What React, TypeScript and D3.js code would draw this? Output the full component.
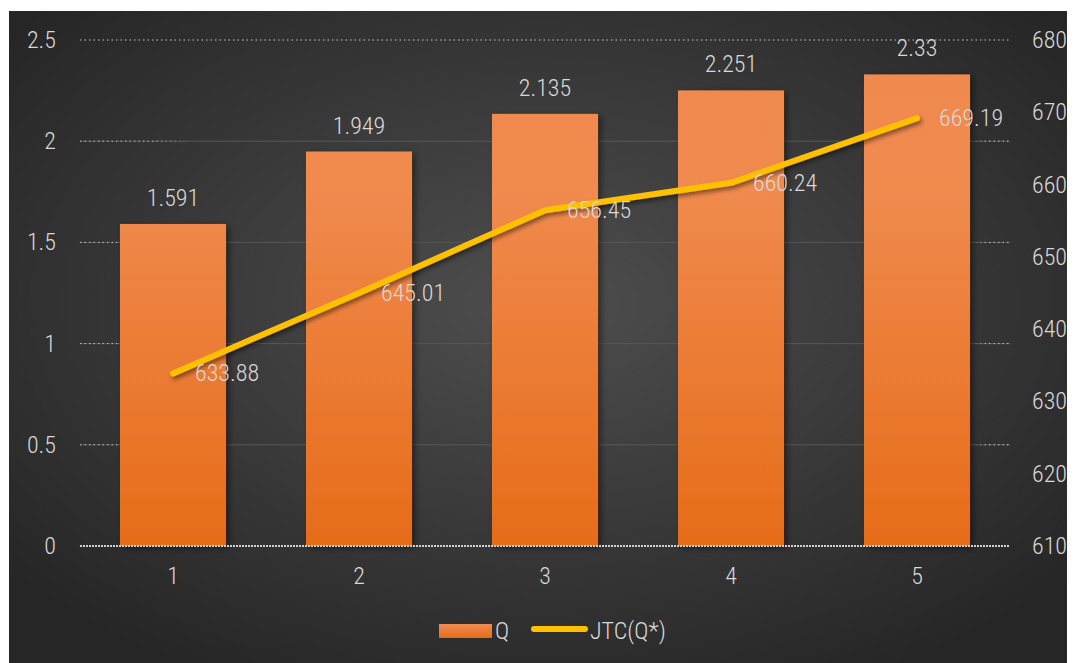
import React from "react";
import * as d3 from "d3";

const categories = ["1", "2", "3", "4", "5"];
const qValues = [1.591, 1.949, 2.135, 2.251, 2.33];
const jtcValues = [633.88, 645.01, 656.45, 660.24, 669.19];
const leftTicks = [0, 0.5, 1, 1.5, 2, 2.5];
const rightTicks = [610, 620, 630, 640, 650, 660, 670, 680];
const seriesNames = ["Q", "JTC(Q*)"];

const FONT = "'Roboto Condensed', 'Liberation Sans Narrow', 'Arial Narrow', Roboto, sans-serif";
const TXT = "#d9d9d9";
const FW = 300;

export default function App() {
  const W = 1067, H = 655;
  const left = 80, right = 1010, top = 40, bottom = 546;
  const x = d3.scaleBand().domain(categories).range([left, right]).paddingInner(0.43).paddingOuter(0.215);
  const y = d3.scaleLinear().domain([0, 2.5]).range([bottom, top]);
  const y2 = d3.scaleLinear().domain([610, 680]).range([bottom, top]);
  const cx = (c: string) => (x(c) as number) + x.bandwidth() / 2;
  const line = d3.line<number>().x((_, i) => cx(categories[i])).y((d) => y2(d));

  const T = (props: any) => (
    <text fill={TXT} fontFamily={FONT} fontSize={24} fontWeight={FW} {...props} />
  );

  return (
    <svg width={W} height={H} style={{ display: "block" }}>
      <defs>
        <radialGradient id="bg" cx="0.5" cy="0.45" r="0.65">
          <stop offset="0" stopColor="#4e4e4e" />
          <stop offset="1" stopColor="#262626" />
        </radialGradient>
        <linearGradient id="bar" x1="0" y1="0" x2="0" y2="1">
          <stop offset="0" stopColor="#f08c55" />
          <stop offset="1" stopColor="#e66b17" />
        </linearGradient>
        <linearGradient id="barAbs" gradientUnits="userSpaceOnUse" x1="0" y1={top} x2="0" y2={bottom}>
          <stop offset="0" stopColor="#f0894f" />
          <stop offset="0.3" stopColor="#f08a4e" />
          <stop offset="1" stopColor="#e66c18" />
        </linearGradient>
        <linearGradient id="gridFade" gradientUnits="userSpaceOnUse" x1={left} y1="0" x2={right} y2="0">
          <stop offset="0" stopColor="#cfcfcf" stopOpacity="0.9" />
          <stop offset="0.08" stopColor="#cfcfcf" stopOpacity="0.8" />
          <stop offset="0.12" stopColor="#cfcfcf" stopOpacity="0" />
          <stop offset="0.96" stopColor="#cfcfcf" stopOpacity="0" />
          <stop offset="0.975" stopColor="#cfcfcf" stopOpacity="0.9" />
          <stop offset="1" stopColor="#cfcfcf" stopOpacity="0.9" />
        </linearGradient>
        <filter id="shadow" x="-20%" y="-20%" width="140%" height="140%">
          <feDropShadow dx="3" dy="2" stdDeviation="3" floodColor="#000" floodOpacity="0.45" />
        </filter>
        <filter id="lshadow" x="-10%" y="-20%" width="120%" height="140%">
          <feDropShadow dx="2" dy="3" stdDeviation="2" floodColor="#000" floodOpacity="0.45" />
        </filter>
      </defs>
      <g transform="translate(-8,-8)">
        <rect x={9} y={11} width={1066} height={652} fill="url(#bg)" />
        {leftTicks.filter((t) => t > 0).map((t) => (
          <g key={t}>
            {t < 2.5 && <line x1={left} x2={right} y1={y(t)} y2={y(t)} stroke="#575757" strokeWidth={1} />}
            <line
              x1={left}
              x2={right}
              y1={y(t)}
              y2={y(t)}
              stroke={t === 2.5 ? "#c8c8c8" : "url(#gridFade)"}
              strokeWidth={1}
              strokeDasharray="1.5,3"
            />
          </g>
        ))}
        {qValues.map((v, i) => (
          <rect
            key={i}
            x={x(categories[i])}
            y={y(v)}
            width={x.bandwidth()}
            height={y(0) - y(v)}
            fill="url(#barAbs)"
            filter="url(#shadow)"
          />
        ))}
        <line x1={left} x2={right} y1={y(0)} y2={y(0)} stroke="#d0d0d0" strokeWidth={2} strokeDasharray="2,1" />
        <path
          d={line(jtcValues) || ""}
          fill="none"
          stroke="#ffc000"
          strokeWidth={6}
          strokeLinecap="round"
          strokeLinejoin="round"
          filter="url(#lshadow)"
        />
        {qValues.map((v, i) => (
          <T key={i} x={cx(categories[i])} y={y(v) - 18} textAnchor="middle">
            {v}
          </T>
        ))}
        {jtcValues.map((v, i) => (
          <T key={i} x={cx(categories[i]) + 22} y={y2(v) + 8} textAnchor="start">
            {v.toFixed(2)}
          </T>
        ))}
        {leftTicks.map((t) => (
          <T key={t} x={56} y={y(t) + 8} textAnchor="end">
            {t}
          </T>
        ))}
        {rightTicks.map((t) => (
          <T key={t} x={1032} y={y2(t) + 8} textAnchor="start">
            {t}
          </T>
        ))}
        {categories.map((c) => (
          <T key={c} x={cx(c)} y={584} textAnchor="middle">
            {c}
          </T>
        ))}
        <rect x={439} y={624} width={53} height={14} fill="url(#bar)" />
        <T x={495} y={639}>{seriesNames[0]}</T>
        <line x1={534} x2={585} y1={629} y2={629} stroke="#ffc000" strokeWidth={6} strokeLinecap="round" />
        <T x={590} y={639}>{seriesNames[1]}</T>
      </g>
    </svg>
  );
}
